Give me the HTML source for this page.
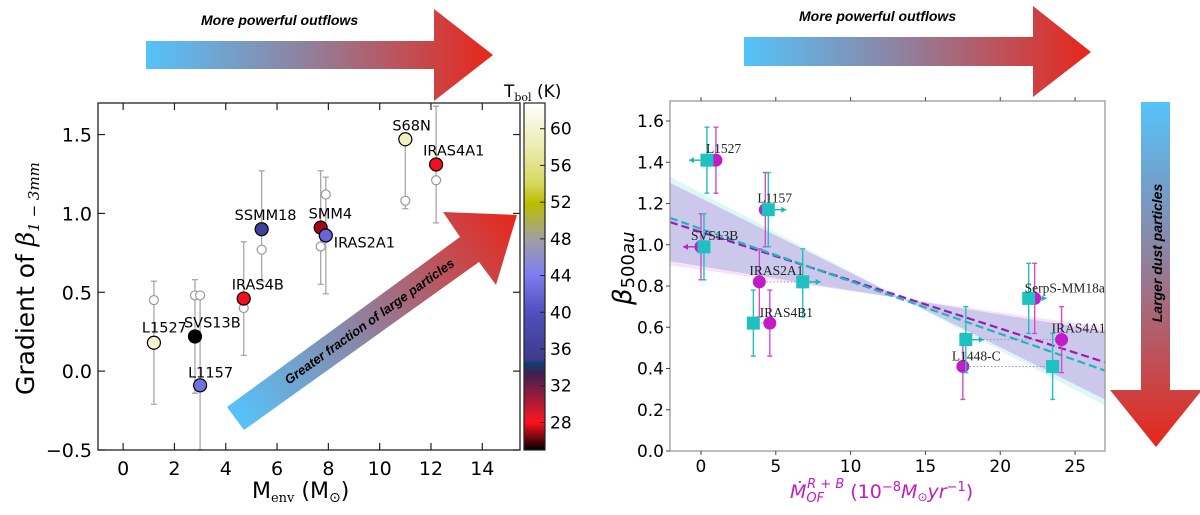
<!DOCTYPE html>
<html><head><meta charset="utf-8">
<style>
html,body{margin:0;padding:0;background:#fff;}
svg{display:block;font-family:"DejaVu Sans","Liberation Sans",sans-serif;}
</style></head>
<body>
<svg id="fig" width="1200" height="515" viewBox="0 0 1200 515" xmlns="http://www.w3.org/2000/svg">
<defs>
<linearGradient id="hgrad" x1="0" y1="0" x2="1" y2="0">
<stop offset="0" stop-color="#55c3fb"/><stop offset="0.45" stop-color="#8e82a0"/><stop offset="1" stop-color="#e8261a"/>
</linearGradient>
<linearGradient id="vgrad" x1="0" y1="0" x2="0" y2="1">
<stop offset="0" stop-color="#55c3fb"/><stop offset="0.45" stop-color="#8e82a0"/><stop offset="1" stop-color="#e8261a"/>
</linearGradient>
<linearGradient id="dgrad" gradientUnits="userSpaceOnUse" x1="235" y1="418" x2="517" y2="215">
<stop offset="0" stop-color="#55c3fb"/><stop offset="0.45" stop-color="#8e82a0"/><stop offset="1" stop-color="#e8261a"/>
</linearGradient>
<linearGradient id="cbgrad" x1="0" y1="0" x2="0" y2="1">
<stop offset="0" stop-color="#ffffff"/><stop offset="0.127" stop-color="#ececb0"/><stop offset="0.23" stop-color="#d8d860"/>
<stop offset="0.29" stop-color="#bcbc00"/><stop offset="0.39" stop-color="#a0a0a0"/><stop offset="0.49" stop-color="#8080f0"/>
<stop offset="0.6" stop-color="#5050c0"/><stop offset="0.74" stop-color="#3c3c8c"/><stop offset="0.75" stop-color="#103d70"/>
<stop offset="0.78" stop-color="#402050"/><stop offset="0.9" stop-color="#e01828"/><stop offset="0.92" stop-color="#ff1020"/>
<stop offset="1" stop-color="#000000"/>
</linearGradient>
</defs>

<g>
<polygon points="146,41 434,41 434,9 493,55 434,101 434,69 146,69" fill="url(#hgrad)"/>
<text x="201" y="25" font-size="14" font-weight="bold" font-style="italic" font-family="Liberation Sans, sans-serif">More powerful outflows</text>
</g>
<g>
<polygon points="744,37 1033,37 1033,6 1091,52 1033,97 1033,66 744,66" fill="url(#hgrad)"/>
<text x="799" y="21" font-size="14" font-weight="bold" font-style="italic" font-family="Liberation Sans, sans-serif">More powerful outflows</text>
</g>
<g>
<polygon points="1141,102 1170,102 1170,390 1202,390 1156,447 1110,390 1141,390" fill="url(#vgrad)"/>
<text transform="translate(1162,253) rotate(-90)" text-anchor="middle" font-size="14" font-weight="bold" font-style="italic" font-family="Liberation Sans, sans-serif">Larger dust particles</text>
</g>

<g id="left"></g>
<g id="right"></g>
</svg>
<script>
// ===== Left chart data =====
const leftNames = ["L1527","SVS13B","L1157","IRAS4B","SSMM18","SMM4","IRAS2A1","S68N","IRAS4A1"];
const leftMenv = [1.2,2.8,3.0,4.7,5.4,7.7,7.9,11.0,12.2];
const leftGrad = [0.18,0.22,-0.09,0.46,0.90,0.91,0.86,1.47,1.31];
const leftTbol = [60,25,43,28,36,27,42,59,28];
const leftOpen = [0.45,0.48,0.48,0.40,0.77,0.79,1.12,1.08,1.21];
const leftErrLo = [-0.21,-0.14,-0.5,0.10,0.57,0.55,0.49,1.03,0.94];
const leftErrHi = [0.57,0.58,0.48,0.82,1.27,1.27,1.23,1.47,1.68];
const leftXTicks = [0,2,4,6,8,10,12,14];
const leftYTicks = [-0.5,0.0,0.5,1.0,1.5];
const leftYTickLabels = ["\u22120.5","0.0","0.5","1.0","1.5"];
const cbTicks = [28,32,36,40,44,48,52,56,60];

// ===== Right chart data =====
const rightNames = ["L1527","L1157","SVS13B","IRAS2A1","IRAS4B1","L1448-C","SerpS-MM18a","IRAS4A1"];
const rightMagX = [1.0,4.3,0.0,3.9,4.6,17.5,22.3,24.1];
const rightCyanX = [0.4,4.5,0.2,6.8,3.5,23.5,21.9,17.7];
const rightBeta = [1.41,1.17,0.99,0.82,0.62,0.41,0.74,0.54];
const rightErrLo = [1.25,0.99,0.83,0.65,0.46,0.25,0.57,0.38];
const rightErrHi = [1.57,1.35,1.15,0.98,0.78,0.57,0.91,0.70];
const rightCyanArrow = [-1,1,0,1,0,0,1,1];
const rightMagArrow = [0,0,-1,0,0,0,0,0];
const rightLinked = [0,0,0,1,1,1,0,1];
const fitMag = [1.11,0.43];
const fitCyan = [1.13,0.39];
const bandCyan = [1.33,0.22,0.92,0.58];
const bandMag = [1.30,0.25,0.90,0.60];
const rightXTicks = [0,5,10,15,20,25];
const rightYTicks = [0,0.2,0.4,0.6,0.8,1.0,1.2,1.4,1.6];

const NS="http://www.w3.org/2000/svg";
function mk(parent,tag,attrs,text){const e=document.createElementNS(NS,tag);for(const k in attrs)e.setAttribute(k,attrs[k]);if(text!==undefined)e.textContent=text;parent.appendChild(e);return e;}

const L={x0:98,x1:520,y0:103,y1:450,xmin:-0.98,xmax:15.47,ymin:-0.5,ymax:1.7};
const lx=v=>L.x0+(v-L.xmin)/(L.xmax-L.xmin)*(L.x1-L.x0);
const ly=v=>L.y1-(v-L.ymin)/(L.ymax-L.ymin)*(L.y1-L.y0);
const cb={x0:524,x1:545,y0:103,y1:450,vmin:25,vmax:62.8};
const cy=v=>cb.y1-(v-cb.vmin)/(cb.vmax-cb.vmin)*(cb.y1-cb.y0);
const cmStops=[[62.8,[255,255,255]],[58,[236,236,176]],[54,[216,216,96]],[51.8,[188,188,0]],[48,[160,160,160]],[44.3,[128,128,240]],[40,[80,80,192]],[34.8,[60,60,140]],[34.4,[16,61,112]],[33.3,[64,32,80]],[29,[224,24,40]],[28.2,[255,16,32]],[25,[0,0,0]]];
function cmap(v){for(let i=0;i<cmStops.length-1;i++){const a=cmStops[i],b=cmStops[i+1];if(v<=a[0]&&v>=b[0]){const t=(a[0]-v)/(a[0]-b[0]);const c=a[1].map((c0,j)=>Math.round(c0+(b[1][j]-c0)*t));return `rgb(${c.join(',')})`;}}return v>cmStops[0][0]?'#fff':'#000';}

const lg=document.getElementById('left');
const da=mk(lg,'g',{});


mk(da,'polygon',{points:"227,407 460,237 443,212 517,215 496,285 479,262 244,430",fill:"url(#dgrad)"});
const dt=mk(da,'text',{transform:"translate(372,325) rotate(-35.7)","text-anchor":"middle","font-size":"13","font-weight":"bold","font-style":"italic","font-family":"Liberation Sans, sans-serif"},"Greater fraction of large particles");



leftMenv.forEach((m,i)=>{
  const x=lx(m);
  const eb=mk(lg,'g',{stroke:"#a8a8a8","stroke-width":"1.3",fill:"none"});
  
  
  mk(eb,'line',{x1:x,x2:x,y1:ly(leftErrLo[i]),y2:ly(leftErrHi[i])});
  mk(eb,'line',{x1:x-3,x2:x+3,y1:ly(leftErrLo[i]),y2:ly(leftErrLo[i])});
  mk(eb,'line',{x1:x-3,x2:x+3,y1:ly(leftErrHi[i]),y2:ly(leftErrHi[i])});
  const oc=mk(lg,'circle',{cx:x,cy:ly(leftOpen[i]),r:4.5,fill:"#fff",stroke:"#999","stroke-width":"1.2"});
  
  
});
const leftLabelOff=[[-12,-10],[-11,-9],[-12,-8],[-12,-9],[-27,-9],[-12,-9],[8,12],[-13,-9],[-13,-9]];
leftMenv.forEach((m,i)=>{
  const x=lx(m),y=ly(leftGrad[i]);
  const c=mk(lg,'circle',{cx:x,cy:y,r:6.5,fill:cmap(leftTbol[i]),stroke:"#000","stroke-width":"1.2"});
  
  
  const t=mk(lg,'text',{x:x+leftLabelOff[i][0],y:y+leftLabelOff[i][1],"font-size":"14.5"},leftNames[i]);
  
  
});
const lf=mk(lg,'rect',{x:L.x0,y:L.y0,width:L.x1-L.x0,height:L.y1-L.y0,fill:"none",stroke:"#222","stroke-width":"1.3"});


leftXTicks.forEach(v=>{
  const x=lx(v);
  mk(lg,'line',{x1:x,x2:x,y1:L.y1,y2:L.y1-7,stroke:"#222","stroke-width":"1.2"});
  mk(lg,'line',{x1:x,x2:x,y1:L.y0,y2:L.y0+7,stroke:"#222","stroke-width":"1.2"});
  const t=mk(lg,'text',{x:x,y:L.y1+25,"text-anchor":"middle","font-size":"19"},String(v));
  
  
});
leftYTicks.forEach((v,i)=>{
  const y=ly(v);
  mk(lg,'line',{x1:L.x0,x2:L.x0+7,y1:y,y2:y,stroke:"#222","stroke-width":"1.2"});
  mk(lg,'line',{x1:L.x1,x2:L.x1-7,y1:y,y2:y,stroke:"#222","stroke-width":"1.2"});
  const t=mk(lg,'text',{x:L.x0-6,y:y+7,"text-anchor":"end","font-size":"19"},leftYTickLabels[i]);
  
  
});
const lxl=mk(lg,'text',{x:252,y:498,"font-size":"22"});


lxl.innerHTML='M<tspan font-size="13" font-family="DejaVu Serif, serif" dy="4">env</tspan><tspan dy="-4"> (M</tspan><tspan font-size="14" dy="4">⊙</tspan><tspan dy="-4">)</tspan>';
const lyl=mk(lg,'text',{transform:"translate(34,395) rotate(-90)","font-size":"25"});


lyl.innerHTML='Gradient of <tspan font-family="DejaVu Serif, serif" font-style="italic">β</tspan><tspan font-size="15" font-family="DejaVu Serif, serif" font-style="italic" dy="5">1 − 3mm</tspan>';
const cbr=mk(lg,'rect',{x:cb.x0,y:cb.y0,width:cb.x1-cb.x0,height:cb.y1-cb.y0,fill:"url(#cbgrad)",stroke:"#222","stroke-width":"1.2"});


cbTicks.forEach(v=>{
  const y=cy(v);
  mk(lg,'line',{x1:cb.x1-5,x2:cb.x1,y1:y,y2:y,stroke:"#222","stroke-width":"1"});
  const t=mk(lg,'text',{x:cb.x1+5,y:y+6,"font-size":"17"},String(v));
  
  
});
const cbt=mk(lg,'text',{x:504,y:97,"font-size":"17"});


cbt.innerHTML='T<tspan font-size="11" font-family="DejaVu Serif, serif" dy="4">bol</tspan><tspan dy="-4"> (K)</tspan>';

const R={x0:670,x1:1105,y0:101,y1:451,xmin:-2.07,xmax:27,ymin:0,ymax:1.697};
const rx=v=>R.x0+(v-R.xmin)/(R.xmax-R.xmin)*(R.x1-R.x0);
const ry=v=>R.y1-(v-R.ymin)/(R.ymax-R.ymin)*(R.y1-R.y0);
const rg=document.getElementById('right');
function band(vals,color,name){
  const p=mk(rg,'polygon',{points:`${rx(R.xmin)},${ry(vals[0])} ${rx(R.xmax)},${ry(vals[1])} ${rx(R.xmax)},${ry(vals[3])} ${rx(R.xmin)},${ry(vals[2])}`,fill:color,"fill-rule":"nonzero"});
  
  
}
band(bandCyan,"rgba(120,225,225,0.25)",'cyan-confidence-band');
band(bandMag,"rgba(230,140,230,0.25)",'magenta-confidence-band');
band([Math.min(bandCyan[0],bandMag[0]),Math.max(bandCyan[1],bandMag[1]),Math.max(bandCyan[2],bandMag[2]),Math.min(bandCyan[3],bandMag[3])],"rgba(150,150,215,0.28)",'overlap-band');
rightBeta.forEach((b,i)=>{
  if(!rightLinked[i])return;
  const l=mk(rg,'line',{x1:rx(rightMagX[i]),x2:rx(rightCyanX[i]),y1:ry(b),y2:ry(b),stroke:"#999","stroke-width":"1","stroke-dasharray":"1.5,2"});
  
  
});
const fm=mk(rg,'line',{x1:rx(R.xmin),y1:ry(fitMag[0]),x2:rx(R.xmax),y2:ry(fitMag[1]),stroke:"#9b1bb5","stroke-width":"2.2","stroke-dasharray":"8,4"});


const fc=mk(rg,'line',{x1:rx(R.xmin),y1:ry(fitCyan[0]),x2:rx(R.xmax),y2:ry(fitCyan[1]),stroke:"#1cb8b8","stroke-width":"2.2","stroke-dasharray":"8,4"});


function errbar(x,b,i,color,name){
  const g=mk(rg,'g',{stroke:color,"stroke-width":"1.4"});
  
  
  mk(g,'line',{x1:x,x2:x,y1:ry(rightErrLo[i]),y2:ry(rightErrHi[i])});
  mk(g,'line',{x1:x-2.5,x2:x+2.5,y1:ry(rightErrLo[i]),y2:ry(rightErrLo[i])});
  mk(g,'line',{x1:x-2.5,x2:x+2.5,y1:ry(rightErrHi[i]),y2:ry(rightErrHi[i])});
}
function harrow(x,y,dir,color,name){
  const g=mk(rg,'g',{stroke:color,fill:color,"stroke-width":"1.4"});
  
  
  const x2=x+dir*18;
  mk(g,'line',{x1:x,x2:x2,y1:y,y2:y});
  mk(g,'polygon',{points:`${x2},${y} ${x2-dir*5},${y-3} ${x2-dir*5},${y+3}`,stroke:"none"});
}
const rightLabelOff=[[-10,-7],[-8,-7],[-10,-7],[-10,-7],[-10,-6],[-11,-6],[-10,-6],[-10,-7]];
rightBeta.forEach((b,i)=>{
  const n=rightNames[i].toLowerCase();
  const xm=rx(rightMagX[i]),xc=rx(rightCyanX[i]),y=ry(b);
  errbar(xm,b,i,"#d44bd4",'magenta-errorbar-'+n);
  errbar(xc,b,i,"#22c0c0",'cyan-errorbar-'+n);
  if(rightMagArrow[i])harrow(xm,y,rightMagArrow[i],"#c020c0",'magenta-limit-arrow-'+n);
  if(rightCyanArrow[i])harrow(xc,y,rightCyanArrow[i],"#18b8b8",'cyan-limit-arrow-'+n);
  const c=mk(rg,'circle',{cx:xm,cy:y,r:6.5,fill:"#c21bc8"});
  
  
  const s=mk(rg,'rect',{x:xc-6.5,y:y-6.5,width:13,height:13,fill:"#1ec0c0"});
  
  
  const t=mk(rg,'text',{x:xm+rightLabelOff[i][0],y:y+rightLabelOff[i][1],"font-size":"13.5","font-family":"Liberation Serif, serif",fill:"#222"},rightNames[i]);
  
  
});
const rf=mk(rg,'rect',{x:R.x0,y:R.y0,width:R.x1-R.x0,height:R.y1-R.y0,fill:"none",stroke:"#999","stroke-width":"1.3"});


rightXTicks.forEach(v=>{
  const x=rx(v);
  mk(rg,'line',{x1:x,x2:x,y1:R.y1,y2:R.y1+4,stroke:"#444","stroke-width":"1"});
  mk(rg,'line',{x1:x,x2:x,y1:R.y0,y2:R.y0-4,stroke:"#444","stroke-width":"1"});
  const t=mk(rg,'text',{x:x,y:R.y1+21,"text-anchor":"middle","font-size":"17"},String(v));
  
  
});
rightYTicks.forEach(v=>{
  const y=ry(v);
  mk(rg,'line',{x1:R.x0,x2:R.x0-4,y1:y,y2:y,stroke:"#444","stroke-width":"1"});
  const t=mk(rg,'text',{x:R.x0-6,y:y+6,"text-anchor":"end","font-size":"17"},v.toFixed(1));
  
  
});
const rxl=mk(rg,'text',{x:790,y:498,"font-size":"19",fill:"#c21bc8","font-family":"DejaVu Sans, sans-serif"});


rxl.innerHTML='<tspan font-style="italic">Ṁ</tspan><tspan font-style="italic" font-size="13" dy="4">OF</tspan><tspan font-style="italic" font-size="13" dx="-17" dy="-14">R + B</tspan><tspan dy="10"> (10</tspan><tspan font-size="13" dy="-7">−8</tspan><tspan font-style="italic" dy="7">M</tspan><tspan font-size="12" dy="3">⊙</tspan><tspan font-style="italic" dy="-3">yr</tspan><tspan font-size="13" dy="-7">−1</tspan><tspan dy="7">)</tspan>';
const ryl=mk(rg,'text',{transform:"translate(631,305) rotate(-90)","font-size":"26"});


ryl.innerHTML='<tspan font-style="italic">β</tspan><tspan font-size="18" dy="3">500</tspan><tspan font-size="18" font-style="italic">au</tspan>';
</script>
</body></html>
